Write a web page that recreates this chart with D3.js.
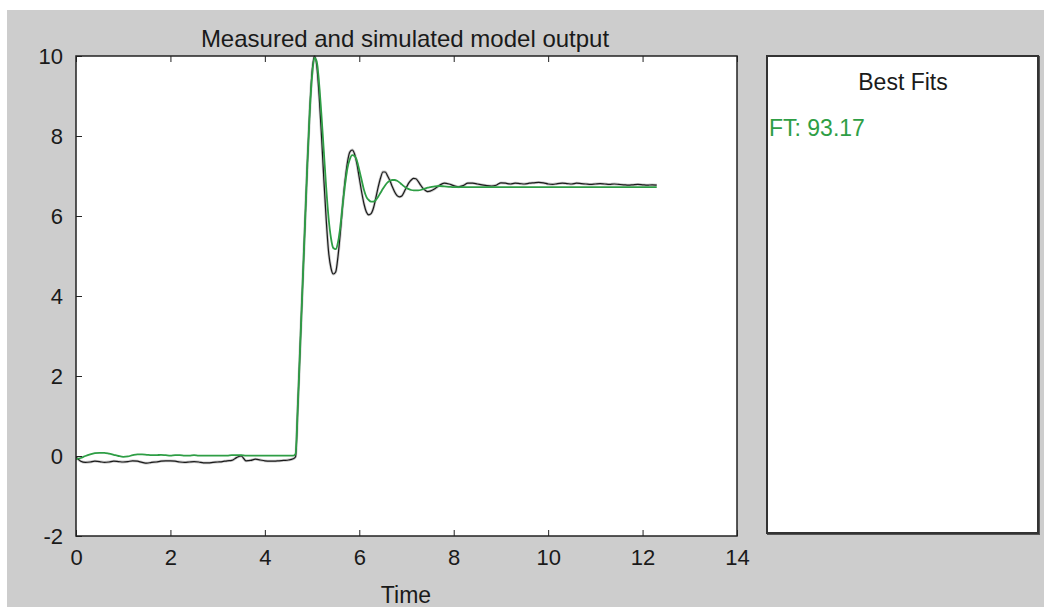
<!DOCTYPE html>
<html lang="en">
<head>
<meta charset="utf-8">
<title>Measured and simulated model output</title>
<script src="https://cdn.jsdelivr.net/npm/d3@7"></script>
<style>
  body { margin: 0; background: #fff; }
  text { font-family: "Liberation Sans", Arial, sans-serif; fill: #1a1a1a; }
  .line { fill: none; stroke-linejoin: round; }
</style>
</head>
<body>
<script>
// time samples (s), denser around the step response
var time = [
  0.0, 0.1, 0.2, 0.3, 0.4, 0.5, 0.6, 0.7, 0.8, 0.9,
  1.0, 1.1, 1.2, 1.3, 1.4, 1.5, 1.6, 1.7, 1.8, 1.9,
  2.0, 2.1, 2.2, 2.3, 2.4, 2.5, 2.6, 2.7, 2.8, 2.9,
  3.0, 3.1, 3.2, 3.3, 3.4, 3.5, 3.6, 3.7, 3.8, 3.9,
  4.0, 4.1, 4.2, 4.3, 4.4, 4.5, 4.6,
  4.65, 4.7, 4.75, 4.8, 4.85, 4.9, 4.95, 5.0, 5.05, 5.1,
  5.15, 5.2, 5.25, 5.3, 5.35, 5.4, 5.45, 5.5, 5.55, 5.6,
  5.65, 5.7, 5.75, 5.8, 5.85, 5.9, 5.95, 6.0, 6.05, 6.1,
  6.15, 6.2, 6.25, 6.3, 6.35, 6.4, 6.45, 6.5, 6.55, 6.6,
  6.65, 6.7, 6.75, 6.8, 6.85, 6.9, 6.95, 7.0, 7.05, 7.1,
  7.15, 7.2, 7.25, 7.3, 7.35, 7.4, 7.45, 7.5,
  7.6, 7.7, 7.8, 7.9, 8.0, 8.1, 8.2, 8.3, 8.4, 8.5,
  8.6, 8.7, 8.8, 8.9, 9.0, 9.1, 9.2, 9.3, 9.4, 9.5,
  9.6, 9.7, 9.8, 9.9, 10.0, 10.1, 10.2, 10.3, 10.4, 10.5,
  10.6, 10.7, 10.8, 10.9, 11.0, 11.1, 11.2, 11.3, 11.4, 11.5,
  11.6, 11.7, 11.8, 11.9, 12.0, 12.1, 12.2, 12.3
];

// measured output (black)
var measured = [
  -0.02, -0.13, -0.16, -0.15, -0.13, -0.14, -0.16, -0.15, -0.13, -0.14,
  -0.15, -0.14, -0.12, -0.13, -0.16, -0.18, -0.16, -0.15, -0.13, -0.12,
  -0.12, -0.13, -0.15, -0.16, -0.15, -0.14, -0.15, -0.17, -0.17, -0.16,
  -0.15, -0.14, -0.12, -0.11, -0.04, 0.0, -0.12, -0.11, -0.08, -0.10,
  -0.12, -0.13, -0.13, -0.12, -0.11, -0.10, -0.07,
  -0.02, 1.3, 2.8, 4.3, 5.8, 7.3, 8.6, 9.6, 10.0, 9.75,
  9.0, 8.0, 6.9, 5.9, 5.1, 4.7, 4.55, 4.6, 5.0, 5.6,
  6.3, 6.9, 7.35, 7.6, 7.65, 7.55, 7.3, 6.95, 6.6, 6.3,
  6.1, 6.03, 6.06, 6.2, 6.45, 6.72, 6.95, 7.1, 7.1, 7.0,
  6.88, 6.73, 6.6, 6.51, 6.48, 6.5, 6.6, 6.72, 6.83, 6.9,
  6.94, 6.93, 6.86, 6.77, 6.69, 6.64, 6.61, 6.62,
  6.68, 6.77, 6.82, 6.80, 6.76, 6.73, 6.76, 6.82, 6.82, 6.80,
  6.78, 6.76, 6.75, 6.77, 6.83, 6.82, 6.80, 6.82, 6.81, 6.80,
  6.82, 6.83, 6.84, 6.83, 6.80, 6.79, 6.81, 6.82, 6.81, 6.80,
  6.82, 6.81, 6.80, 6.79, 6.80, 6.81, 6.80, 6.79, 6.80, 6.79,
  6.78, 6.77, 6.78, 6.79, 6.78, 6.77, 6.78, 6.77
];

// simulated model output (green)
var simulated = [
  -0.08, -0.05, 0.0, 0.04, 0.07, 0.08, 0.08, 0.06, 0.03, 0.0,
  -0.02, -0.01, 0.02, 0.04, 0.04, 0.03, 0.02, 0.02, 0.03, 0.02,
  0.01, 0.02, 0.02, 0.01, 0.01, 0.02, 0.01, 0.01, 0.01, 0.01,
  0.01, 0.01, 0.01, 0.02, 0.02, 0.02, 0.01, 0.01, 0.01, 0.01,
  0.01, 0.01, 0.01, 0.01, 0.01, 0.01, 0.01,
  0.05, 1.3, 2.8, 4.3, 5.8, 7.3, 8.6, 9.5, 9.95, 9.85,
  9.3, 8.5, 7.6, 6.7, 5.95, 5.45, 5.2, 5.17, 5.35, 5.75,
  6.3, 6.8, 7.2, 7.42, 7.52, 7.5, 7.38, 7.15, 6.9, 6.65,
  6.48, 6.4, 6.36, 6.36, 6.4, 6.48, 6.58, 6.68, 6.77, 6.84,
  6.88, 6.9, 6.9, 6.88, 6.84, 6.79, 6.74, 6.7, 6.67, 6.65,
  6.64, 6.64, 6.64, 6.65, 6.67, 6.69, 6.71, 6.72,
  6.74, 6.75, 6.74, 6.73, 6.72, 6.72, 6.72, 6.72, 6.72, 6.72,
  6.72, 6.72, 6.72, 6.72, 6.72, 6.72, 6.72, 6.72, 6.72, 6.72,
  6.72, 6.72, 6.72, 6.72, 6.72, 6.72, 6.72, 6.72, 6.72, 6.72,
  6.72, 6.72, 6.72, 6.72, 6.72, 6.72, 6.72, 6.72, 6.72, 6.72,
  6.72, 6.72, 6.72, 6.72, 6.72, 6.72, 6.72, 6.72
];

var xTicks = [0, 2, 4, 6, 8, 10, 12, 14];
var yTicks = [-2, 0, 2, 4, 6, 8, 10];
var fitLabel = "FT: 93.17";

var W = 1044, H = 607;
var plot = {left: 76, right: 737, top: 56, bottom: 536};
var green = "#2e9e45";

var svg = d3.select("body").append("svg")
    .attr("width", W)
    .attr("height", H);

// figure background
svg.append("rect").attr("x", 7).attr("y", 10)
    .attr("width", W - 7).attr("height", H - 10)
    .attr("fill", "#cdcdcd");

var x = d3.scaleLinear().domain([0, 14]).range([plot.left, plot.right]);
var y = d3.scaleLinear().domain([-2, 10]).range([plot.bottom, plot.top]);

// axes area
svg.append("rect")
    .attr("x", plot.left).attr("y", plot.top)
    .attr("width", plot.right - plot.left).attr("height", plot.bottom - plot.top)
    .attr("fill", "#fff");

svg.append("clipPath").attr("id", "clip")
  .append("rect")
    .attr("x", plot.left).attr("y", plot.top - 1)
    .attr("width", plot.right - plot.left).attr("height", plot.bottom - plot.top + 1);

var data = time.map(function(t, i) {
  return {t: t, m: measured[i], s: simulated[i]};
});

var lineM = d3.line().curve(d3.curveMonotoneX)
    .x(function(d) { return x(d.t); })
    .y(function(d) { return y(d.m); });
var lineS = d3.line().curve(d3.curveMonotoneX)
    .x(function(d) { return x(d.t); })
    .y(function(d) { return y(d.s); });

var lines = svg.append("g").attr("clip-path", "url(#clip)");
lines.append("path").datum(data)
    .attr("class", "line")
    .attr("stroke", "#7a7a7a").attr("stroke-width", 2.8).attr("opacity", 0.4)
    .attr("d", lineM);
lines.append("path").datum(data)
    .attr("class", "line")
    .attr("stroke", "#1a1a1a").attr("stroke-width", 1.2)
    .attr("d", lineM);
lines.append("path").datum(data)
    .attr("class", "line")
    .attr("stroke", green).attr("stroke-width", 1.8)
    .attr("d", lineS);

// axes with inward ticks, plain hyphen for negatives
var fmt = function(d) { return String(d); };
var gx = svg.append("g")
    .attr("transform", "translate(0," + plot.bottom + ")")
    .call(d3.axisBottom(x).tickValues(xTicks).tickSize(-6).tickPadding(13).tickFormat(fmt));
var gxTop = svg.append("g")
    .attr("transform", "translate(0," + plot.top + ")")
    .call(d3.axisTop(x).tickValues(xTicks).tickSize(-6).tickFormat(""));
var gy = svg.append("g")
    .attr("transform", "translate(" + plot.left + ",0)")
    .call(d3.axisLeft(y).tickValues(yTicks).tickSize(-6).tickPadding(13).tickFormat(fmt));

[gx, gxTop, gy].forEach(function(g) {
  g.select(".domain").remove();
  g.selectAll("line").attr("stroke", "#222");
  g.selectAll("text").attr("font-size", 22).attr("fill", "#1a1a1a")
    .attr("font-family", "'Liberation Sans', Arial, sans-serif");
});

// frame
svg.append("rect")
    .attr("x", plot.left).attr("y", plot.top)
    .attr("width", plot.right - plot.left).attr("height", plot.bottom - plot.top)
    .attr("fill", "none").attr("stroke", "#222").attr("stroke-width", 1.5);

svg.append("text")
    .attr("x", 405).attr("y", 47)
    .attr("text-anchor", "middle").attr("font-size", 24)
    .text("Measured and simulated model output");

svg.append("text")
    .attr("x", 406).attr("y", 603)
    .attr("text-anchor", "middle").attr("font-size", 23)
    .text("Time");

// best fits panel
var panel = {x: 767, y: 56, w: 271, h: 477};
svg.append("rect")
    .attr("x", panel.x + 1).attr("y", panel.y + 1)
    .attr("width", panel.w).attr("height", panel.h)
    .attr("fill", "none").attr("stroke", "#555").attr("stroke-width", 2);
svg.append("rect")
    .attr("x", panel.x).attr("y", panel.y)
    .attr("width", panel.w).attr("height", panel.h)
    .attr("fill", "#fff").attr("stroke", "#333").attr("stroke-width", 2);

svg.append("text")
    .attr("x", 903).attr("y", 90)
    .attr("text-anchor", "middle").attr("font-size", 23)
    .text("Best Fits");

svg.append("text")
    .attr("x", panel.x + 2).attr("y", 136)
    .attr("font-size", 23).style("fill", green)
    .text(fitLabel);
</script>
</body>
</html>
